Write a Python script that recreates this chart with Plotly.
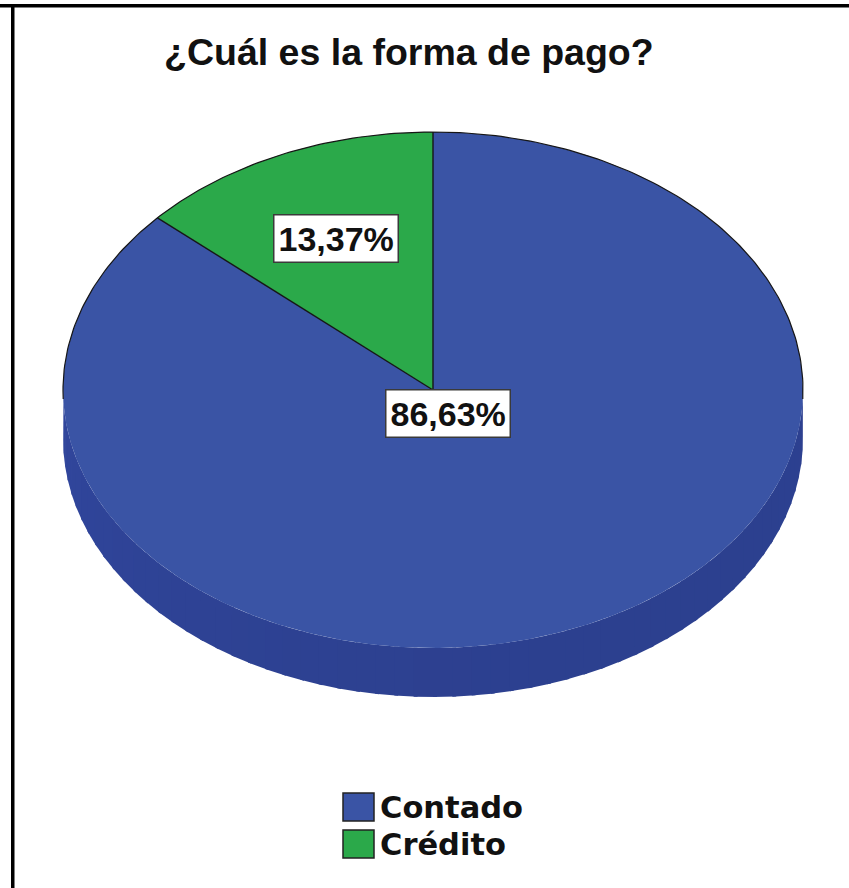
import numpy as np
import plotly.graph_objects as go

# ---- data ----
categories = ["Contado", "Crédito"]
percentages = [86.63, 13.37]
title_text = "¿Cuál es la forma de pago?"

# ---- style ----
top_colors = ["#3A54A5", "#2BA94A"]
side_colors = ["#30459A", "#23893B"]
edge_color = "#161616"
label_radius = [0.10, 0.645]   # radial position of each value label (fraction of radius)

W, H = 849, 888
cx, cy = 433, 390        # centre of the top face
rx, ry = 370, 258        # semi-axes of the top face
depth = 49               # thickness of the disc
start_deg = 90.0         # first slice starts at 12 o'clock and runs clockwise


def pt(theta_deg, r=1.0, dy=0.0):
    t = np.radians(theta_deg)
    return cx + r * rx * np.cos(t), cy - r * ry * np.sin(t) + dy


# slice boundaries (clockwise => decreasing angle)
bounds = [start_deg]
for p in percentages:
    bounds.append(bounds[-1] - 360.0 * p / 100.0)

fig = go.Figure()


def shade(hex_color, f):
    h = hex_color.lstrip("#")
    r, g, b = (int(h[i:i + 2], 16) for i in (0, 2, 4))
    return "rgb({},{},{})".format(*(int(max(0, min(255, c * f))) for c in (r, g, b)))


def slice_at(theta):
    # map angle into the clockwise sweep [bounds[-1], bounds[0]]
    t = theta
    while t > bounds[0]:
        t -= 360
    while t <= bounds[-1]:
        t += 360
    for i in range(len(percentages)):
        if bounds[i + 1] <= t <= bounds[i]:
            return i
    return 0


# ---- side wall (front half of the disc, 180..360 deg) ----
step = 3.0
for a0 in np.arange(180.0, 360.0, step):
    a1 = a0 + step
    mid = 0.5 * (a0 + a1)
    i = slice_at(mid)
    # gentle lighting: slightly lighter toward the left, darker toward the right
    f = 1.02 - 0.08 * (mid - 180.0) / 180.0 - 0.04 * np.sin(np.radians(mid - 180.0))
    angs = np.linspace(a0, a1 + 0.6, 4)
    xs_top, ys_top = pt(angs)
    xs_bot, ys_bot = pt(angs[::-1], dy=depth)
    fig.add_trace(go.Scatter(
        x=np.concatenate([xs_top, xs_bot]), y=np.concatenate([ys_top, ys_bot]),
        mode="lines", fill="toself", fillcolor=shade(side_colors[i], f),
        line=dict(width=0), hoverinfo="skip", showlegend=False))

# ---- top face slices ----
for i, cat in enumerate(categories):
    a_start, a_end = bounds[i], bounds[i + 1]
    n = max(8, int(abs(a_start - a_end) * 2))
    angs = np.linspace(a_start, a_end, n)
    xs, ys = pt(angs)
    fig.add_trace(go.Scatter(
        x=np.concatenate([[cx], xs, [cx]]), y=np.concatenate([[cy], ys, [cy]]),
        mode="lines", fill="toself", fillcolor=top_colors[i],
        line=dict(width=0), name=cat, hoverinfo="name", showlegend=False))

# ---- outlines: radial edges and upper silhouette ----
for b in bounds[:-1]:
    bx, by = pt(b)
    fig.add_trace(go.Scatter(x=[cx, bx], y=[cy, by], mode="lines",
                             line=dict(color=edge_color, width=1.4),
                             hoverinfo="skip", showlegend=False))
angs = np.linspace(-2, 182, 200)
sx, sy = pt(angs)
fig.add_trace(go.Scatter(x=sx, y=sy, mode="lines",
                         line=dict(color=edge_color, width=1.2),
                         hoverinfo="skip", showlegend=False))

# ---- value labels ----
annotations = []
for i, p in enumerate(percentages):
    mid = 0.5 * (bounds[i] + bounds[i + 1])
    lx, ly = pt(mid, r=label_radius[i])
    annotations.append(dict(
        x=lx, y=ly, xref="x", yref="y", showarrow=False,
        text=f"{p:.2f}%".replace(".", ","),
        font=dict(family="Liberation Sans, Arial", size=34, color="#111", weight="bold"),
        bgcolor="white", bordercolor="#3a3a3a", borderwidth=1.5, borderpad=4))

# ---- title ----
annotations.append(dict(
    x=409, y=52, xref="x", yref="y", showarrow=False, text=title_text,
    font=dict(family="Liberation Sans, Arial", size=37.5, color="#111", weight="bold")))

# ---- legend ----
shapes = []
leg_x0, leg_y0, sq_w, sq_h, leg_gap = 343, 793, 31, 28, 37
for i, cat in enumerate(categories):
    y0 = leg_y0 + i * leg_gap
    shapes.append(dict(type="rect", xref="x", yref="y",
                       x0=leg_x0, x1=leg_x0 + sq_w, y0=y0, y1=y0 + sq_h,
                       fillcolor=top_colors[i], line=dict(color="#222", width=1.5)))
    annotations.append(dict(
        x=leg_x0 + sq_w + 4, y=y0 + sq_h / 2, xref="x", yref="y",
        xanchor="left", yanchor="middle", showarrow=False, text=cat,
        font=dict(family="DejaVu Sans", size=30.5, color="#111", weight="bold")))

# ---- frame lines ----
shapes.append(dict(type="rect", xref="x", yref="y", x0=0, x1=W, y0=4, y1=7.5,
                   fillcolor="black", line=dict(width=0)))
shapes.append(dict(type="rect", xref="x", yref="y", x0=11, x1=14.5, y0=4, y1=H,
                   fillcolor="black", line=dict(width=0)))

fig.update_layout(
    width=W, height=H, margin=dict(l=0, r=0, t=0, b=0),
    paper_bgcolor="white", plot_bgcolor="white",
    xaxis=dict(range=[0, W], visible=False, fixedrange=True),
    yaxis=dict(range=[H, 0], visible=False, fixedrange=True),
    annotations=annotations, shapes=shapes, showlegend=False,
)

fig.write_html("out.html")
